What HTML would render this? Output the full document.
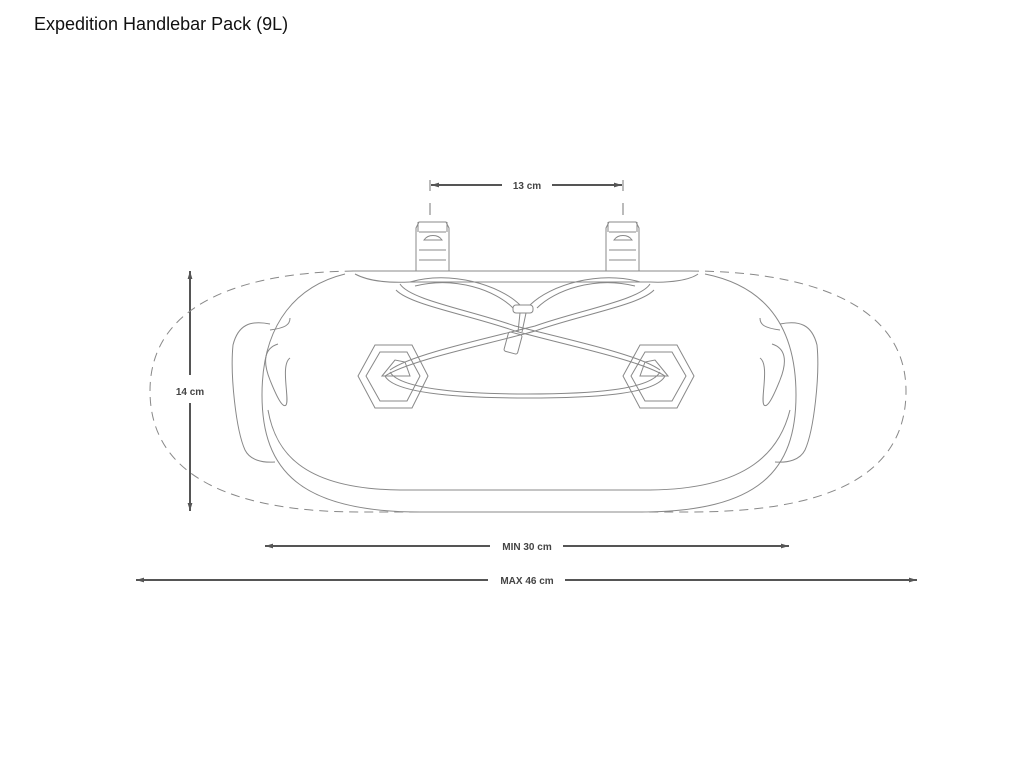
<!DOCTYPE html>
<html><head><style>
html,body{margin:0;padding:0;background:#fff;width:1024px;height:764px;overflow:hidden}
.t{position:absolute;left:34px;top:14px;font:18px "Liberation Sans",sans-serif;color:#111}
</style></head><body>
<div class="t">Expedition Handlebar Pack (9L)</div>
<svg width="1024" height="764" style="position:absolute;left:0;top:0">
<defs>
<marker id="a" viewBox="0 0 10 6" refX="10" refY="3" markerUnits="userSpaceOnUse" markerWidth="8" markerHeight="5" orient="auto-start-reverse"><path d="M0,0 L10,3 L0,6 Z" fill="#555"/></marker>
</defs>
<g stroke="#555" stroke-width="2" fill="none">
<line x1="431" y1="185" x2="502" y2="185" marker-start="url(#a)"/>
<line x1="552" y1="185" x2="622" y2="185" marker-end="url(#a)"/>
<line x1="190" y1="271" x2="190" y2="375" marker-start="url(#a)"/>
<line x1="190" y1="403" x2="190" y2="511" marker-end="url(#a)"/>
<line x1="265" y1="546" x2="490" y2="546" marker-start="url(#a)"/>
<line x1="563" y1="546" x2="789" y2="546" marker-end="url(#a)"/>
<line x1="136" y1="580" x2="488" y2="580" marker-start="url(#a)"/>
<line x1="565" y1="580" x2="917" y2="580" marker-end="url(#a)"/>
</g>
<g stroke="#777" stroke-width="1" fill="none">
<line x1="430" y1="180" x2="430" y2="191"/><line x1="623" y1="180" x2="623" y2="191"/>
<line x1="430" y1="203" x2="430" y2="215"/><line x1="623" y1="203" x2="623" y2="215"/>
</g>
<g font-family="Liberation Sans,sans-serif" font-weight="bold" font-size="10" fill="#444" text-anchor="middle">
<text x="527" y="189">13 cm</text>
<text x="190" y="395">14 cm</text>
<text x="527" y="550">MIN 30 cm</text>
<text x="527" y="584">MAX 46 cm</text>
</g>
<path d="M360,271 L690,271 C800,271 906,300 906,391 C906,480 820,512 690,512 L360,512 C240,512 150,480 150,391 C150,300 250,271 360,271 Z" fill="none" stroke="#888" stroke-width="1" stroke-dasharray="9,6"/>
<g stroke="#888" stroke-width="1" fill="none">
<path d="M352,271 L690,271"/>
<path d="M345,274 C300,285 262,320 262,395 C262,470 300,512 420,512 L640,512 C760,512 796,470 796,395 C796,320 760,285 705,274"/>
<path d="M355,274 C370,282 390,283 410,282 L650,282 C670,283 690,280 698,274"/>
<path d="M268,410 C275,450 300,489 400,490 L650,490 C750,489 780,450 790,410"/>
<path d="M270,324 C250,320 238,325 233,345 C230,375 236,430 245,450 C250,460 262,463 275,462"/>
<path d="M278,344 C265,348 262,360 270,380 C278,400 283,408 286,405 C290,400 280,365 290,358"/>
<path d="M270,330 C285,328 290,325 290,318"/>
<path d="M780,324 C800,320 812,325 817,345 C820,375 814,430 805,450 C800,460 788,463 775,462"/>
<path d="M772,344 C785,348 788,360 780,380 C772,400 767,408 764,405 C760,400 770,365 760,358"/>
<path d="M780,330 C765,328 760,325 760,318"/>
<path d="M416,271 L416,228 L419,222 L446,222 L449,228 L449,271 M418,222 L418,232 M447,222 L447,232 M419,232 L446,232 M419,250 L446,250 M419,260 L446,260"/>
<path d="M424,240 C428,234 438,234 442,240 Z"/>
<path d="M606,271 L606,228 L609,222 L636,222 L639,228 L639,271 M608,222 L608,232 M637,222 L637,232 M609,232 L636,232 M609,250 L636,250 M609,260 L636,260"/>
<path d="M614,240 C618,234 628,234 632,240 Z"/>
<path d="M375,345 L412,345 L428,376 L412,408 L375,408 L358,376 Z"/>
<path d="M380,352 L407,352 L420,376 L407,401 L380,401 L366,376 Z"/>
<path d="M640,345 L677,345 L694,376 L677,408 L640,408 L623,376 Z"/>
<path d="M645,352 L672,352 L686,376 L672,401 L645,401 L631,376 Z"/>
<path d="M382,376 L395,360 L405,362 L410,376 Z"/>
<path d="M668,376 L655,360 L645,362 L640,376 Z"/>
<path d="M400,284 C410,300 470,310 515,326 C570,340 640,355 660,370"/>
<path d="M396,290 C410,305 470,315 515,331 C565,345 640,360 665,376"/>
<path d="M650,284 C640,300 580,310 535,326 C480,340 410,355 390,370"/>
<path d="M654,290 C640,305 580,315 535,331 C485,345 410,360 385,376"/>
<path d="M385,376 C395,395 470,398 527,398 C590,398 655,395 665,376"/>
<path d="M390,372 C400,390 470,394 527,394 C590,394 650,390 660,372"/>
<path d="M410,282 C450,270 500,285 520,305 M415,286 C455,276 495,290 513,308"/>
<path d="M640,282 C600,270 550,285 530,305 M635,286 C595,276 555,290 537,308"/>
<rect x="513" y="305" width="20" height="8" rx="3"/>
<path d="M520,313 L518,332 M526,313 L522,332"/>
<rect x="506" y="333" width="14" height="20" rx="2" transform="rotate(15 513 343)"/>
</g>
</svg>
</body></html>
